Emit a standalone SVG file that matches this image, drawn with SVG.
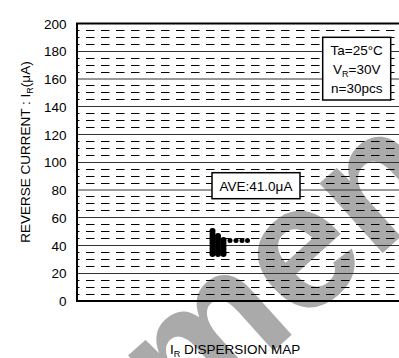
<svg xmlns="http://www.w3.org/2000/svg" width="399" height="358" viewBox="0 0 399 358">
<style>
text{font-family:"Liberation Sans",Arial,sans-serif;fill:#000}
.t{font-size:13.5px}
.tick{font-size:13.5px;text-anchor:end}
.mid{text-anchor:middle}
.sub{font-size:9px}
.solid{stroke:#333;stroke-width:1;fill:none}
.dash{stroke:#000;stroke-width:1;fill:none;stroke-dasharray:8.5 6.5;stroke-dashoffset:6}
.frame{stroke:#000;stroke-width:2;fill:none}
.box{fill:#fff;stroke:#000;stroke-width:1.5}
.wm{font-family:"Liberation Sans",Arial,sans-serif;font-weight:bold;font-size:178px;fill:#aaaaaa}
</style>
<defs>
<circle id="d" r="3" fill="#000"/>
<circle id="s" r="2.5" fill="#000"/>
</defs>
<rect width="399" height="358" fill="#fff"/>
<g id="watermark">
<text class="wm" text-anchor="middle" x="-25" y="46" transform="translate(306,260) rotate(-42)">men</text>
</g>
<g id="grid">
<path class="dash" d="M77 294.5H399M77 287.5H399M77 280.5H399M77 266.5H399M77 259.5H399M77 252.5H399M77 238.5H399M77 231.5H399M77 224.5H399M77 210.5H399M77 203.5H399M77 196.5H399M77 183.5H399M77 176.5H399M77 169.5H399M77 155.5H399M77 148.5H399M77 141.5H399M77 127.5H399M77 120.5H399M77 113.5H399M77 99.5H399M77 92.5H399M77 85.5H399M77 72.5H399M77 65.5H399M77 58.5H399M77 44.5H399M77 37.5H399M77 30.5H399"/>
<path class="solid" d="M77 273.5H399M77 245.5H399M77 217.5H399M77 190H399M77 162.5H399M77 134.5H399M77 106.5H399M77 79H399M77 51.5H399"/>
<path class="frame" d="M399 23.5H77V301H399"/>
</g>
<g id="yticks">
<text class="tick" x="66.5" y="306">0</text>
<text class="tick" x="66.5" y="278.3">20</text>
<text class="tick" x="66.5" y="250.5">40</text>
<text class="tick" x="66.5" y="222.8">60</text>
<text class="tick" x="66.5" y="195">80</text>
<text class="tick" x="66.5" y="167.3">100</text>
<text class="tick" x="66.5" y="139.5">120</text>
<text class="tick" x="66.5" y="111.8">140</text>
<text class="tick" x="66.5" y="84">160</text>
<text class="tick" x="66.5" y="56.3">180</text>
<text class="tick" x="66.5" y="28.5">200</text>
</g>
<g id="ytitle">
<text class="t mid" transform="translate(30,152) rotate(-90)">REVERSE CURRENT : I<tspan class="sub" dy="3">R</tspan><tspan dy="-3">(μA)</tspan></text>
</g>
<g id="xtitle">
<text class="t" x="170" y="354">I<tspan class="sub" dy="3">R</tspan><tspan dy="-3"> DISPERSION MAP</tspan></text>
</g>
<g id="legend">
<rect class="box" x="322.7" y="37.3" width="68" height="62.7"/>
<text class="t mid" x="356.7" y="55">Ta=25°C</text>
<text class="t mid" x="356.7" y="73.5">V<tspan class="sub" dy="3">R</tspan><tspan dy="-3">=30V</tspan></text>
<text class="t mid" x="356.7" y="92.5">n=30pcs</text>
</g>
<g id="ave">
<rect class="box" x="212" y="172.7" width="88" height="26"/>
<text class="t mid" x="256" y="190.5">AVE:41.0μA</text>
</g>
<g id="data">
<use href="#d" x="212.5" y="231"/><use href="#d" x="212.5" y="234"/><use href="#d" x="212.5" y="237"/><use href="#d" x="212.5" y="240"/><use href="#d" x="212.5" y="243"/><use href="#d" x="212.5" y="246"/><use href="#d" x="212.5" y="249"/><use href="#d" x="212.5" y="252"/><use href="#d" x="212.5" y="254"/>
<use href="#d" x="218" y="236"/><use href="#d" x="218" y="239"/><use href="#d" x="218" y="242"/><use href="#d" x="218" y="245"/><use href="#d" x="218" y="248"/><use href="#d" x="218" y="251"/><use href="#d" x="218" y="254"/>
<use href="#d" x="223.5" y="240"/><use href="#d" x="223.5" y="243"/><use href="#d" x="223.5" y="246"/><use href="#d" x="223.5" y="249"/><use href="#d" x="223.5" y="252"/><use href="#d" x="223.5" y="254"/>
<use href="#s" x="230" y="240.5"/><use href="#s" x="236" y="240.5"/><use href="#s" x="242" y="240.5"/><use href="#s" x="247.5" y="240.5"/>
</g>
</svg>
